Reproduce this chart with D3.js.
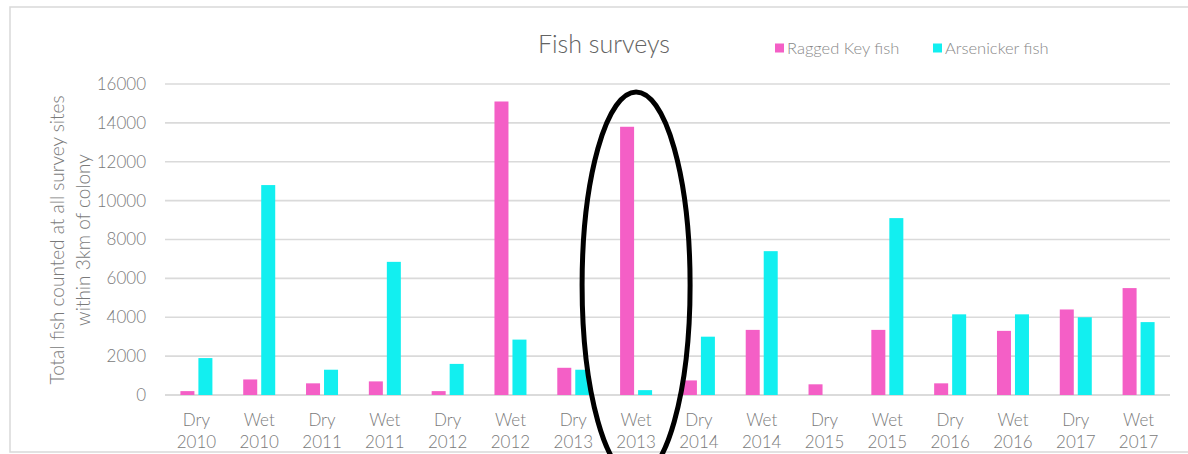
<!DOCTYPE html>
<html>
<head>
<meta charset="utf-8">
<script src="https://cdn.jsdelivr.net/npm/d3@7"></script>
<style>
  html, body { margin: 0; padding: 0; background: #ffffff; }
  svg { display: block; font-family: Lato, "Open Sans", sans-serif; }
</style>
</head>
<body>
<svg id="chart" width="1188" height="454"></svg>
<script>
// Survey periods (season + year) along the x axis
const seasons = ["Dry","Wet","Dry","Wet","Dry","Wet","Dry","Wet","Dry","Wet","Dry","Wet","Dry","Wet","Dry","Wet"];
const years   = ["2010","2010","2011","2011","2012","2012","2013","2013","2014","2014","2015","2015","2016","2016","2017","2017"];

// Fish counts per survey period
const raggedKey  = [200, 800, 600, 700, 200, 15100, 1400, 13800, 750, 3350, 550, 3350, 600, 3300, 4400, 5500];
const arsenicker = [1900, 10800, 1300, 6850, 1600, 2850, 1300, 250, 3000, 7400, 0, 9100, 4150, 4150, 4000, 3750];

const seriesNames = ["Ragged Key fish", "Arsenicker fish"];
const yTicks = [0, 2000, 4000, 6000, 8000, 10000, 12000, 14000, 16000];

const colors = { "Ragged Key fish": "#f45fc6", "Arsenicker fish": "#12eff0" };
const highlighted = 7; // period circled on the chart (Wet 2013)

const categories = seasons.map((s, i) => s + " " + years[i]);
const rows = categories.map((c, i) => ({
  cat: c, season: seasons[i], year: years[i],
  values: [
    { key: seriesNames[0], value: raggedKey[i] },
    { key: seriesNames[1], value: arsenicker[i] }
  ]
}));

const svg = d3.select("#chart");
const W = 1188, H = 454;
const plot = { left: 165, right: 1170, top: 84, bottom: 395 };
const textColor = "#7a7a7a";

// outer chart frame
svg.append("rect")
  .attr("x", 10).attr("y", 7)
  .attr("width", W + 20).attr("height", 445)
  .attr("fill", "#ffffff")
  .attr("stroke", "#d9d9d9").attr("stroke-width", 1.5);

const x0 = d3.scaleBand().domain(categories).range([plot.left, plot.right]).padding(0);
const pairWidth = 32;
const x1 = d3.scaleBand().domain(seriesNames).range([0, pairWidth]).paddingInner(0.222).paddingOuter(0);
const y = d3.scaleLinear().domain([0, 16000]).range([plot.bottom, plot.top]);

// horizontal gridlines
svg.append("g")
  .selectAll("line")
  .data(yTicks)
  .join("line")
  .attr("x1", plot.left).attr("x2", plot.right)
  .attr("y1", d => y(d)).attr("y2", d => y(d))
  .attr("stroke", d => d === 0 ? "#cfcfcf" : "#dadada")
  .attr("stroke-width", 1.6);

// y axis labels
const yAxis = d3.axisLeft(y).tickValues(yTicks).tickSize(0).tickPadding(0).tickFormat(d3.format("d"));
svg.append("g")
  .attr("transform", `translate(146,0)`)
  .call(yAxis)
  .call(g => g.select(".domain").remove())
  .call(g => g.selectAll("text")
    .attr("fill", textColor)
    .attr("font-size", 17)
    .attr("font-weight", 300)
    .attr("font-family", "Lato, 'Open Sans', sans-serif"));

// bars
const groups = svg.append("g")
  .selectAll("g")
  .data(rows)
  .join("g")
  .attr("transform", d => `translate(${x0(d.cat) + x0.bandwidth() / 2 - pairWidth / 2},0)`);

groups.selectAll("rect")
  .data(d => d.values)
  .join("rect")
  .attr("x", d => x1(d.key))
  .attr("width", x1.bandwidth())
  .attr("y", d => y(d.value))
  .attr("height", d => y(0) - y(d.value))
  .attr("fill", d => colors[d.key]);

// x axis labels (two lines: season, year)
const xLabels = svg.append("g")
  .selectAll("text")
  .data(rows)
  .join("text")
  .attr("text-anchor", "middle")
  .attr("fill", textColor)
  .attr("font-weight", 300)
  .attr("font-size", 17);
xLabels.append("tspan").attr("x", d => x0(d.cat) + x0.bandwidth() / 2).attr("y", 426).text(d => d.season);
xLabels.append("tspan").attr("x", d => x0(d.cat) + x0.bandwidth() / 2).attr("y", 448).text(d => d.year);

// y axis title
const yTitle = svg.append("text")
  .attr("transform", "translate(0,240) rotate(-90)")
  .attr("text-anchor", "middle")
  .attr("fill", textColor)
  .attr("font-weight", 300)
  .attr("font-size", 19);
yTitle.append("tspan").attr("x", 0).attr("y", 64).text("Total fish counted at all survey sites");
yTitle.append("tspan").attr("x", 0).attr("y", 90).text("within 3km of colony");

// chart title
svg.append("text")
  .attr("x", 604).attr("y", 53)
  .attr("text-anchor", "middle")
  .attr("fill", "#636363")
  .attr("font-weight", 300)
  .attr("font-size", 25)
  .text("Fish surveys");

// legend
const legendItems = [
  { key: seriesNames[0], x: 775 },
  { key: seriesNames[1], x: 933 }
];
const lg = svg.append("g").selectAll("g").data(legendItems).join("g")
  .attr("transform", d => `translate(${d.x},48)`);
lg.append("rect").attr("x", 0).attr("y", -4.5).attr("width", 9).attr("height", 9)
  .attr("fill", d => colors[d.key]);
lg.append("text").attr("x", 12).attr("y", 5.5)
  .attr("fill", "#888888").attr("font-weight", 300).attr("font-size", 16.5)
  .text(d => d.key);

// hand-drawn style ring around the highlighted period
const hx = x0(categories[highlighted]) + x0.bandwidth() / 2;
svg.append("ellipse")
  .attr("cx", hx).attr("cy", 285)
  .attr("rx", 54).attr("ry", 193)
  .attr("fill", "none")
  .attr("stroke", "#000000")
  .attr("stroke-width", 5);
</script>
</body>
</html>
